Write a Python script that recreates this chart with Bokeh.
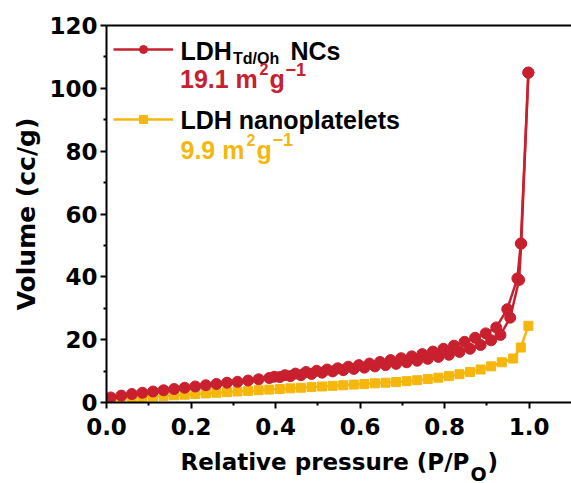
import math
from bokeh.plotting import figure
from bokeh.layouts import column
from bokeh.models import Range1d, FixedTicker, LinearAxis, Label, Legend, LegendItem
from bokeh.embed import file_html
from bokeh.resources import INLINE

# ---------------- data ----------------
red_ads_x = [0.010, 0.035, 0.060, 0.085, 0.110, 0.135, 0.160, 0.185, 0.210, 0.235,
             0.260, 0.285, 0.310, 0.335, 0.360, 0.385, 0.410, 0.435, 0.460, 0.485,
             0.510, 0.535, 0.560, 0.585, 0.610, 0.635, 0.660, 0.685, 0.710, 0.735,
             0.760, 0.785, 0.810, 0.835, 0.860, 0.885, 0.910, 0.932, 0.955, 0.976,
             0.981, 0.998]
red_ads_y = [1.6, 2.2, 2.7, 3.1, 3.5, 3.9, 4.3, 4.7, 5.1, 5.5,
             5.9, 6.3, 6.6, 7.0, 7.4, 7.8, 8.1, 8.4, 8.7, 9.1,
             9.5, 9.9, 10.3, 10.7, 11.1, 11.5, 11.9, 12.3, 12.8, 13.3,
             13.9, 14.5, 15.2, 16.1, 17.1, 18.3, 19.8, 21.5, 27.0, 39.0,
             50.6, 105.0]

red_des_x = [0.998, 0.980, 0.972, 0.948, 0.922, 0.897, 0.872, 0.847, 0.822, 0.797,
             0.772, 0.747, 0.722, 0.697, 0.672, 0.647, 0.622, 0.597, 0.572, 0.547,
             0.522, 0.497, 0.472, 0.447, 0.422, 0.397]
red_des_y = [105.0, 50.6, 39.5, 29.7, 23.9, 22.0, 20.6, 19.3, 18.1, 17.1,
             16.2, 15.4, 14.7, 14.1, 13.5, 12.9, 12.4, 11.9, 11.4, 10.9,
             10.5, 10.1, 9.7, 9.2, 8.7, 8.2]

yel_x = [0.010, 0.035, 0.060, 0.085, 0.110, 0.135, 0.160, 0.185, 0.210, 0.235,
         0.260, 0.285, 0.310, 0.335, 0.360, 0.385, 0.410, 0.435, 0.460, 0.485,
         0.510, 0.535, 0.560, 0.585, 0.610, 0.635, 0.660, 0.685, 0.710, 0.735,
         0.760, 0.785, 0.810, 0.835, 0.860, 0.885, 0.910, 0.935, 0.962, 0.980,
         0.998]
yel_y = [0.9, 1.2, 1.5, 1.7, 1.9, 2.1, 2.3, 2.5, 2.7, 2.9,
         3.1, 3.3, 3.5, 3.7, 3.9, 4.1, 4.3, 4.5, 4.7, 4.9,
         5.1, 5.3, 5.5, 5.7, 5.9, 6.1, 6.3, 6.5, 6.8, 7.1,
         7.5, 7.9, 8.4, 9.0, 9.7, 10.5, 11.5, 12.8, 14.0, 17.5,
         24.4]

x_ticks = [0.0, 0.2, 0.4, 0.6, 0.8, 1.0]
x_tick_labels = ["0.0", "0.2", "0.4", "0.6", "0.8", "1.0"]
x_minor = [0.1, 0.3, 0.5, 0.7, 0.9]
y_ticks = [0, 20, 40, 60, 80, 100, 120]
y_tick_labels = ["0", "20", "40", "60", "80", "100", "120"]
y_minor = [10, 30, 50, 70, 90, 110]

RED = "#C8202F"
YEL = "#F5B70E"

# ---------------- layout ----------------
W, H = 571, 483
MAIN_H = 450           # main figure height
L, T = 106, 25         # frame left / top
FRAME_BOTTOM = 402
B = MAIN_H - FRAME_BOTTOM
DY = 6                 # baseline correction for Label text

p = figure(width=W, height=MAIN_H, output_backend="svg", toolbar_location=None,
           x_range=Range1d(0, 1.1), y_range=Range1d(0, 120),
           min_border_left=L, min_border_top=T, min_border_bottom=B,
           min_border_right=0)
p.outline_line_color = None
p.grid.visible = False
p.background_fill_color = "white"
p.border_fill_color = "white"

for ax, ticks, minor, labels in ((p.xaxis[0], x_ticks, x_minor, x_tick_labels),
                                 (p.yaxis[0], y_ticks, y_minor, y_tick_labels)):
    ax.ticker = FixedTicker(ticks=ticks, minor_ticks=minor)
    ax.major_label_overrides = {t: l for t, l in zip(ticks, labels)}
    ax.axis_line_width = 2
    ax.major_tick_line_width = 2
    ax.minor_tick_line_width = 2
    ax.major_tick_out = 6
    ax.major_tick_in = 0
    ax.minor_tick_out = 3
    ax.minor_tick_in = 0
    ax.major_label_text_font = "DejaVu Sans"
    ax.major_label_text_font_style = "bold"
    ax.major_label_text_font_size = "23px"
    ax.major_label_text_color = "black"
p.xaxis[0].major_label_standoff = 9
p.yaxis[0].major_label_standoff = 3

p.yaxis[0].axis_label = "Volume (cc/g)"
p.yaxis[0].axis_label_text_font = "DejaVu Sans"
p.yaxis[0].axis_label_text_font_style = "bold"
p.yaxis[0].axis_label_text_font_size = "25px"
p.yaxis[0].axis_label_text_color = "black"
p.yaxis[0].axis_label_standoff = 5

top_axis = LinearAxis(ticker=FixedTicker(ticks=[]), axis_line_width=2,
                      major_tick_line_color=None, minor_tick_line_color=None)
p.add_layout(top_axis, "above")

# ---------------- series ----------------
yl = p.line(yel_x, yel_y, line_color=YEL, line_width=2.5)
ys = p.scatter(yel_x, yel_y, marker="square", size=9, fill_color=YEL, line_color=YEL)

rl1 = p.line(red_ads_x, red_ads_y, line_color=RED, line_width=2.5)
rs1 = p.scatter(red_ads_x, red_ads_y, marker="circle", size=11, fill_color=RED, line_color=RED)
rl2 = p.line(red_des_x, red_des_y, line_color=RED, line_width=2.5)
rs2 = p.scatter(red_des_x, red_des_y, marker="circle", size=11, fill_color=RED, line_color=RED)

legend = Legend(items=[LegendItem(label=" ", renderers=[rl1, rs1]),
                       LegendItem(label=" ", renderers=[yl, ys])],
                location=(7, 273), orientation="vertical",
                glyph_width=60, glyph_height=20, label_width=0, label_height=20,
                label_standoff=0, spacing=50, padding=0, margin=0,
                label_text_font_size="1px",
                border_line_color=None, background_fill_alpha=0)
p.add_layout(legend, "center")


def lab(fig, text, cx, cy, size, color="black", font="Liberation Sans", oy=FRAME_BOTTOM):
    fig.add_layout(Label(x=cx - L, y=oy - (cy - DY), x_units="screen", y_units="screen",
                         text=text, text_font=font, text_font_size=f"{size}px",
                         text_font_style="bold", text_color=color,
                         text_align="left", text_baseline="alphabetic"))


# legend texts
lab(p, "LDH", 180, 56.7, 25)
lab(p, "Td/Oh", 232.5, 64.3, 16)
lab(p, "NCs", 290, 56.7, 25)
lab(p, "19.1 m", 179.5, 84.5, 25, RED)
lab(p, "2", 259, 74.5, 16, RED)
lab(p, "g", 269, 84.5, 25, RED)
lab(p, "\u22121", 285, 74.5, 18, RED)
lab(p, "LDH nanoplatelets", 180, 125, 25)
lab(p, "9.9 m", 180, 155, 25, YEL)
lab(p, "2", 246, 145, 16, YEL)
lab(p, "g", 256, 155, 25, YEL)
lab(p, "\u22121", 272, 145, 18, YEL)

# ---------------- x-axis title strip ----------------
q = figure(width=W, height=H - MAIN_H, output_backend="svg", toolbar_location=None,
           x_range=Range1d(0, W - L), y_range=Range1d(0, H - MAIN_H),
           min_border_left=L, min_border_right=0, min_border_top=0, min_border_bottom=0)
q.axis.visible = False
q.grid.visible = False
q.outline_line_color = None
q.background_fill_color = "white"
q.border_fill_color = "white"

lab(q, "Relative pressure (P/P", 180, 467.7, 23, font="DejaVu Sans", oy=H)
lab(q, "O", 470, 479, 19, font="DejaVu Sans", oy=H)
lab(q, ")", 487, 467.7, 23, font="DejaVu Sans", oy=H)

layout = column(p, q, spacing=0)
open("out.html", "w").write(file_html(layout, INLINE))
